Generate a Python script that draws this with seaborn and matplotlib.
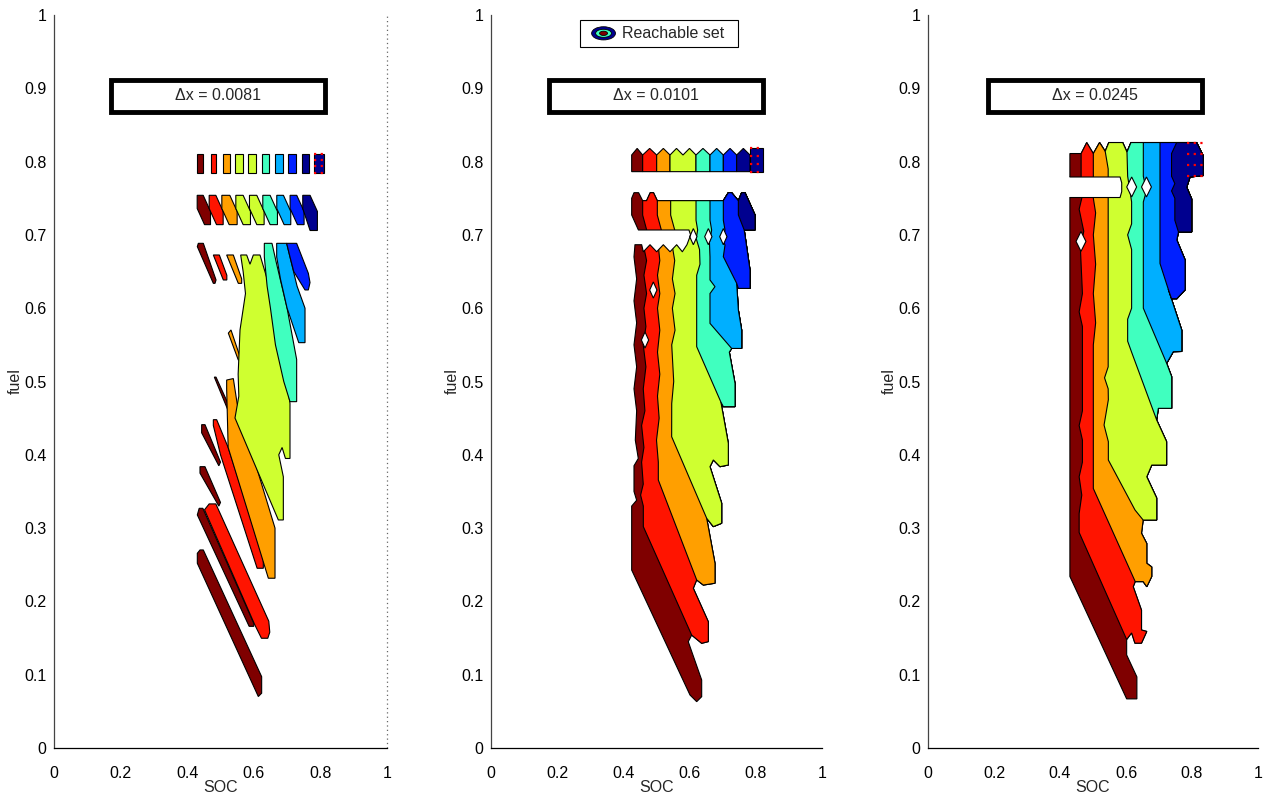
import matplotlib
matplotlib.use("Agg")
import matplotlib.pyplot as plt
import seaborn as sns
from matplotlib.patches import Polygon, Rectangle, Ellipse

sns.set_theme(style="white")
plt.rcParams["font.family"] = ["Liberation Sans", "DejaVu Sans"]

# band colours, from low SOC (left) to high SOC (right)
band_colors = ["#7f0000", "#ff1400", "#ff9f00", "#cfff30", "#40ffbf", "#00afff", "#0020ff", "#00008f"]
delta_x = ["0.0081", "0.0101", "0.0245"]

# ---------------- panel 1 (dx = 0.0081) ----------------
p1_row1_left = [0.430, 0.471, 0.508, 0.544, 0.584, 0.624, 0.664, 0.704, 0.744, 0.782]
p1_row1_right = [0.448, 0.486, 0.529, 0.567, 0.607, 0.647, 0.687, 0.727, 0.767, 0.812]
p1_row1_band = [0, 1, 2, 3, 3, 4, 5, 6, 7, 7]
p1_row2_left = [0.430, 0.466, 0.504, 0.546, 0.587, 0.627, 0.669, 0.709, 0.747]
p1_row2_width = [0.018, 0.020, 0.024, 0.022, 0.022, 0.022, 0.020, 0.020, 0.022]
p1_row2_band = [0, 1, 2, 3, 3, 4, 5, 6, 7]
p1_stripe_band = [0, 1, 2, 2, 3, 4, 5, 6, 0, 0, 0, 0, 0, 1, 1, 2]
p1_stripes = [
    [(.4304, .684), (.4334, .6885), (.4484, .6885), (.4866, .6385), (.4835, .6339), (.4785, .6339)],
    [(.4785, .6726), (.4965, .6726), (.519, .645), (.519, .6385), (.5085, .6385)],
    [(.5185, .6726), (.5385, .6726), (.5636, .640), (.5636, .6339), (.5535, .6339)],
    [(.5235, .566), (.5315, .5703), (.5585, .5339), (.5586, .5293), (.5535, .5293)],
    [(.5606, .6726), (.5786, .6726), (.5886, .66), (.5986, .6726), (.6186, .6726), (.64, .64), (.66, .60),
     (.69, .53), (.7087, .47), (.7087, .395), (.695, .395), (.685, .41), (.675, .40), (.6887, .37),
     (.6887, .3111), (.6737, .3111), (.5435, .4502), (.555, .48), (.553, .51), (.5586, .5703),
     (.575, .62), (.568, .65)],
    [(.6316, .6885), (.6546, .6885), (.6687, .66), (.70, .60), (.7287, .53), (.7287, .4725), (.7087, .4725),
     (.69, .50), (.665, .55), (.65, .60), (.64, .63), (.6316, .67)],
    [(.6687, .6885), (.6987, .6885), (.73, .63), (.7538, .60), (.7538, .553), (.735, .553), (.70, .60),
     (.68, .64), (.6687, .67)],
    [(.6987, .6885), (.7287, .6885), (.7638, .6476), (.7688, .635), (.7638, .6249), (.7538, .6249),
     (.72, .65), (.7087, .67)],
    [(.4815, .506), (.4865, .506), (.5405, .452), (.5385, .447), (.535, .447)],
    [(.4434, .4411), (.4535, .4411), (.50, .39), (.495, .385), (.4434, .43)],
    [(.4384, .3838), (.4534, .3838), (.50, .335), (.495, .33), (.4384, .375)],
    [(.4304, .318), (.436, .327), (.447, .327), (.60, .17), (.60, .166), (.586, .166)],
    [(.4304, .252), (.4304, .2656), (.4384, .2702), (.4484, .2702), (.6236, .0973), (.6236, .0748), (.6136, .0702)],
    [(.4785, .4479), (.4885, .4479), (.523, .41), (.6286, .26), (.6286, .2452), (.61, .2452), (.50, .40),
     (.4785, .44)],
    [(.452, .325), (.466, .333), (.486, .333), (.645, .173), (.648, .158), (.642, .1497), (.623, .1497), (.603, .168)],
    [(.5185, .502), (.5385, .504), (.55, .47), (.6637, .30), (.6637, .2316), (.6437, .2316), (.523, .41),
     (.5185, .49)],
]
p1_target = [0.782, 0.812, 0.785, 0.810]

# ---------------- panel 2 (dx = 0.0101) ----------------
p2_row1_edges = [0.425, 0.4582, 0.5005, 0.5408, 0.6193, 0.6616, 0.7019, 0.7422, 0.7825, 0.8228]
p2_row1_band = [0, 1, 2, 3, 4, 5, 6, 7, 7]
p2_outline = [
    (.425, .750), (.432, .7576), (.446, .7576), (.4582, .7467),
    (.470, .7467), (.481, .7576), (.491, .7576), (.5025, .7467),
    (.5428, .7467), (.6194, .7467), (.6616, .7467), (.7019, .7467),
    (.717, .7576), (.727, .7576), (.7473, .7467),
    (.7573, .7576), (.7674, .7576), (.7976, .7272), (.7976, .7067), (.765, .7067),
    (.7825, .652), (.7825, .627), (.7473, .627), (.7422, .634),
    (.7473, .5975), (.7573, .5702), (.7573, .5451), (.727, .5451),
    (.72, .54), (.7372, .4975), (.7372, .4657), (.7019, .4657), (.6945, .472),
    (.717, .4157), (.717, .3861), (.6918, .3838), (.6717, .393), (.6616, .3838), (.6969, .334),
    (.6969, .3066), (.6717, .302), (.6516, .3134),
    (.6767, .252), (.6767, .2248), (.6415, .2223), (.6214, .2293),
    (.6113, .2179), (.6566, .1723), (.6566, .1451), (.6365, .1428), (.6063, .154),
    (.5960, .145), (.6365, .0928), (.6365, .070), (.6214, .0632), (.6012, .0723),
    (.425, .2428), (.425, .33), (.44, .338), (.432, .35), (.432, .385), (.445, .395), (.436, .42),
    (.44, .46), (.432, .49), (.44, .52), (.432, .55), (.44, .58), (.432, .61), (.44, .64),
    (.432, .67), (.435, .6866), (.4453, .7067), (.425, .7272),
]
p2_borders = [
    [(.4582, .7467), (.4582, .727), (.4703, .7067), (.4602, .6866), (.47, .665), (.462, .645), (.47, .62),
     (.462, .60), (.468, .575), (.46, .55), (.468, .52), (.46, .49), (.465, .46), (.455, .44), (.462, .41),
     (.455, .39), (.46, .36), (.452, .345), (.4602, .33), (.4602, .302), (.6063, .154)],
    [(.5025, .7467), (.5025, .727), (.5146, .7067), (.505, .6866), (.51, .665), (.503, .645), (.51, .62),
     (.503, .60), (.51, .57), (.503, .54), (.51, .51), (.503, .48), (.508, .45), (.5, .42), (.5055, .39),
     (.5055, .3656), (.6214, .2293)],
    [(.5428, .7467), (.5428, .727), (.555, .7067), (.547, .6866), (.555, .665), (.548, .64), (.556, .62),
     (.548, .60), (.556, .57), (.546, .55), (.552, .50), (.546, .47), (.5458, .4247), (.6516, .3134)],
    [(.6194, .7467), (.6194, .72), (.6243, .7067), (.62, .695), (.63, .68), (.6314, .66), (.6214, .645),
     (.6214, .5475), (.6945, .472)],
    [(.6616, .7467), (.6616, .72), (.6666, .7067), (.66, .69), (.6616, .67), (.6616, .6385), (.6767, .6294),
     (.6616, .62), (.6616, .5793), (.727, .5451)],
    [(.7019, .7467), (.7019, .72), (.7069, .7067), (.70, .695), (.7069, .686), (.7019, .6703), (.7422, .634)],
    [(.7473, .7467), (.7473, .7272), (.765, .7067)],
]
p2_holes = [(.6113, .6976), (.6566, .6976), (.7019, .6976), (.4904, .6248), (.4653, .5566)]
p2_gap = [(.4453, .7067), (.598, .7067), (.603, .700), (.592, .6866), (.578, .677), (.5609, .6866),
          (.5408, .677), (.5206, .6866), (.5005, .677), (.4804, .6866), (.4602, .677), (.4552, .6866), (.435, .6866)]
p2_target = [0.7825, 0.8228, 0.7863, 0.818]

# ---------------- panel 3 (dx = 0.0245) ----------------
p3_outline = [
    (.430, .811), (.464, .811), (.481, .826), (.501, .811), (.520, .826), (.537, .814), (.548, .826),
    (.590, .826), (.603, .813), (.615, .826), (.6525, .826), (.703, .826), (.7535, .826), (.814, .826),
    (.834, .808), (.834, .781),
    (.794, .779), (.784, .765), (.799, .749), (.799, .704), (.759, .704),
    (.754, .693), (.779, .666), (.779, .625), (.754, .613), (.738, .613), (.728, .626),
    (.769, .570), (.769, .541), (.7434, .5407), (.7232, .5248),
    (.7384, .5066), (.7384, .4634), (.698, .4634), (.693, .4475),
    (.723, .418), (.723, .386), (.678, .386), (.663, .370), (.693, .341), (.693, .311), (.652, .311),
    (.647, .293), (.663, .279), (.663, .252), (.678, .247), (.678, .234), (.663, .220), (.652, .227), (.628, .227),
    (.622, .220), (.647, .188), (.647, .161), (.663, .159), (.647, .143), (.627, .143), (.617, .157), (.602, .148),
    (.602, .127), (.633, .097), (.633, .067), (.602, .067),
    (.430, .234),
]
p3_borders = [
    [(.464, .811), (.464, .78), (.466, .75), (.458, .735), (.472, .705), (.462, .68), (.468, .62), (.458, .595),
     (.468, .575), (.468, .46), (.458, .44), (.468, .42), (.468, .39), (.458, .37), (.466, .345), (.458, .32),
     (.458, .294), (.602, .148)],
    [(.501, .811), (.501, .75), (.508, .73), (.501, .70), (.508, .66), (.501, .62), (.508, .58), (.501, .55),
     (.501, .354), (.628, .227)],
    [(.537, .814), (.546, .79), (.546, .52), (.535, .505), (.546, .49), (.5465, .475), (.5335, .4406),
     (.5465, .4179), (.5465, .3929), (.6273, .3247), (.652, .311)],
    [(.603, .813), (.605, .78), (.617, .745), (.617, .715), (.605, .70), (.617, .68), (.617, .60), (.605, .585),
     (.605, .555), (.617, .54), (.693, .4475)],
    [(.6525, .826), (.6525, .78), (.662, .76), (.6525, .745), (.6525, .60), (.7232, .5248)],
    [(.703, .826), (.703, .661), (.728, .626)],
    [(.7535, .826), (.738, .811), (.738, .78), (.748, .77), (.738, .76), (.748, .75), (.748, .72), (.759, .704)],
]
p3_holes = [(.6172, .7654), (.662, .7654), (.4636, .6911)]
p3_gap = [(.430, .779), (.582, .779), (.587, .771), (.587, .759), (.582, .751), (.430, .751)]
p3_target = [0.784, 0.834, 0.781, 0.826]

panel_box = [(0.171, 0.814), (0.175, 0.822), (0.182, 0.830)]

EDGE = dict(ec="black", lw=0.8)


def nearest(outline, pt):
    d = [(x - pt[0]) ** 2 + (y - pt[1]) ** 2 for x, y in outline]
    return d.index(min(d))


def nested_bands(ax, outline, borders):
    ax.add_patch(Polygon(outline, fc=band_colors[0], **EDGE))
    for k, border in enumerate(borders, start=1):
        i0, i1 = nearest(outline, border[0]), nearest(outline, border[-1])
        ax.add_patch(Polygon(list(border) + outline[i0:i1 + 1][::-1], fc=band_colors[k], **EDGE))


def holes(ax, centres, hw=0.013, hh=0.013):
    for cx, cy in centres:
        ax.add_patch(Polygon([(cx - hw, cy), (cx, cy + hh), (cx + hw, cy), (cx, cy - hh)],
                             fc="white", **EDGE))


def gap(ax, edge):
    fill = [(edge[0][0] - 0.01, edge[0][1])] + list(edge) + [(edge[-1][0] - 0.01, edge[-1][1])]
    ax.add_patch(Polygon(fill, fc="white", ec="none"))
    ax.plot([p[0] for p in edge], [p[1] for p in edge], color="black", lw=0.8)


def target(ax, box):
    s0, s1, f0, f1 = box
    for k in range(4):
        f = f0 + (f1 - f0) * k / 3
        ax.plot([s0, s1], [f, f], color="red", lw=1.6, ls=(0, (1, 2)))


def peaked_blocks(ax, edges, bands, f0, f1, peak):
    for k, band in enumerate(bands):
        l, r = edges[k], edges[k + 1]
        n = max(1, round((r - l) / 0.04))
        pts = [(l, f0), (l, f1)]
        step = (r - l) / n
        for j in range(n):
            pts += [(l + step * (j + 0.5), peak), (l + step * (j + 1), f1)]
        if k == len(bands) - 1:
            pts = [(l, f0), (l, peak), (r, peak), (r, f1)]
        pts.append((r, f0))
        ax.add_patch(Polygon(pts, fc=band_colors[band], **EDGE))


fig = plt.figure(figsize=(12.73, 7.96), dpi=100)
lefts = [54 / 1273, 491 / 1273, 928 / 1273]
widths = [333 / 1273, 331 / 1273, 330 / 1273]
axes = [fig.add_axes([lefts[i], 48 / 796, widths[i], 733 / 796]) for i in range(3)]

# panel 1
ax = axes[0]
for l, r, b in zip(p1_row1_left, p1_row1_right, p1_row1_band):
    ax.add_patch(Polygon([(l, .785), (l, .810), (r, .810), (r, .785)], fc=band_colors[b], **EDGE))
for l, w, b in zip(p1_row2_left, p1_row2_width, p1_row2_band):
    bot = .706 if b == 7 else .714
    ax.add_patch(Polygon([(l, .754), (l + w, .754), (l + w + .022, .732), (l + w + .022, bot),
                          (l + .022, bot), (l, .736)], fc=band_colors[b], **EDGE))
order = sorted(range(len(p1_stripes)), key=lambda i: p1_stripe_band[i])
for i in order:
    ax.add_patch(Polygon(p1_stripes[i], fc=band_colors[p1_stripe_band[i]], **EDGE))
target(ax, p1_target)
ax.axvline(1, color="#666666", lw=0.9, ls=(0, (1, 2.5)), clip_on=False)

# panel 2
ax = axes[1]
peaked_blocks(ax, p2_row1_edges, p2_row1_band, .7863, .809, .818)
nested_bands(ax, p2_outline, p2_borders)
gap(ax, p2_gap)
holes(ax, p2_holes, 0.011, 0.011)
target(ax, p2_target)

# panel 3
ax = axes[2]
nested_bands(ax, p3_outline, p3_borders)
gap(ax, p3_gap)
holes(ax, p3_holes, 0.015, 0.0136)
target(ax, p3_target)

for i, ax in enumerate(axes):
    ax.set_xlim(0, 1)
    ax.set_ylim(0, 1)
    ax.set_xticks([0, .2, .4, .6, .8, 1])
    ax.set_xticklabels(["0", "0.2", "0.4", "0.6", "0.8", "1"])
    ax.set_yticks([k / 10 for k in range(11)])
    ax.set_yticklabels(["0"] + [f"0.{k}" for k in range(1, 10)] + ["1"])
    ax.tick_params(direction="in", length=5, width=0.8, labelsize=11.5, colors="black")
    ax.tick_params(axis="x", pad=13)
    ax.tick_params(axis="y", pad=5.5)
    for side in ["top", "right"]:
        ax.spines[side].set_visible(False)
    ax.spines["left"].set_color("#444444")
    ax.spines["bottom"].set_color("black")
    ax.spines["left"].set_linewidth(0.9)
    ax.spines["bottom"].set_linewidth(0.9)
    ax.set_xlabel("SOC", fontsize=11.5, labelpad=-1)
    ax.set_ylabel("fuel", fontsize=11.5, labelpad=1)
    x0, x1 = panel_box[i]
    ax.add_patch(Rectangle((x0, .868), x1 - x0, .043, fc="white", ec="black", lw=3.5))
    ax.text((x0 + x1) / 2, .8895, "Δx = " + delta_x[i], ha="center", va="center", fontsize=11.5)

# legend of panel 2
ax = axes[1]
ax.add_patch(Rectangle((.269, .956), .477, .037, transform=ax.transAxes, fc="white", ec="black", lw=0.8))
ax.add_patch(Ellipse((.340, .975), .072, .018, transform=ax.transAxes, fc=band_colors[7], ec="black", lw=0.6))
ax.add_patch(Ellipse((.340, .975), .048, .011, transform=ax.transAxes, fc=band_colors[4], ec="black", lw=0.6))
ax.add_patch(Ellipse((.340, .975), .024, .0058, transform=ax.transAxes, fc=band_colors[0], ec="black", lw=0.6))
ax.text(.397, .9745, "Reachable set", transform=ax.transAxes, ha="left", va="center", fontsize=11.5)

fig.savefig("out.png", dpi=100)
